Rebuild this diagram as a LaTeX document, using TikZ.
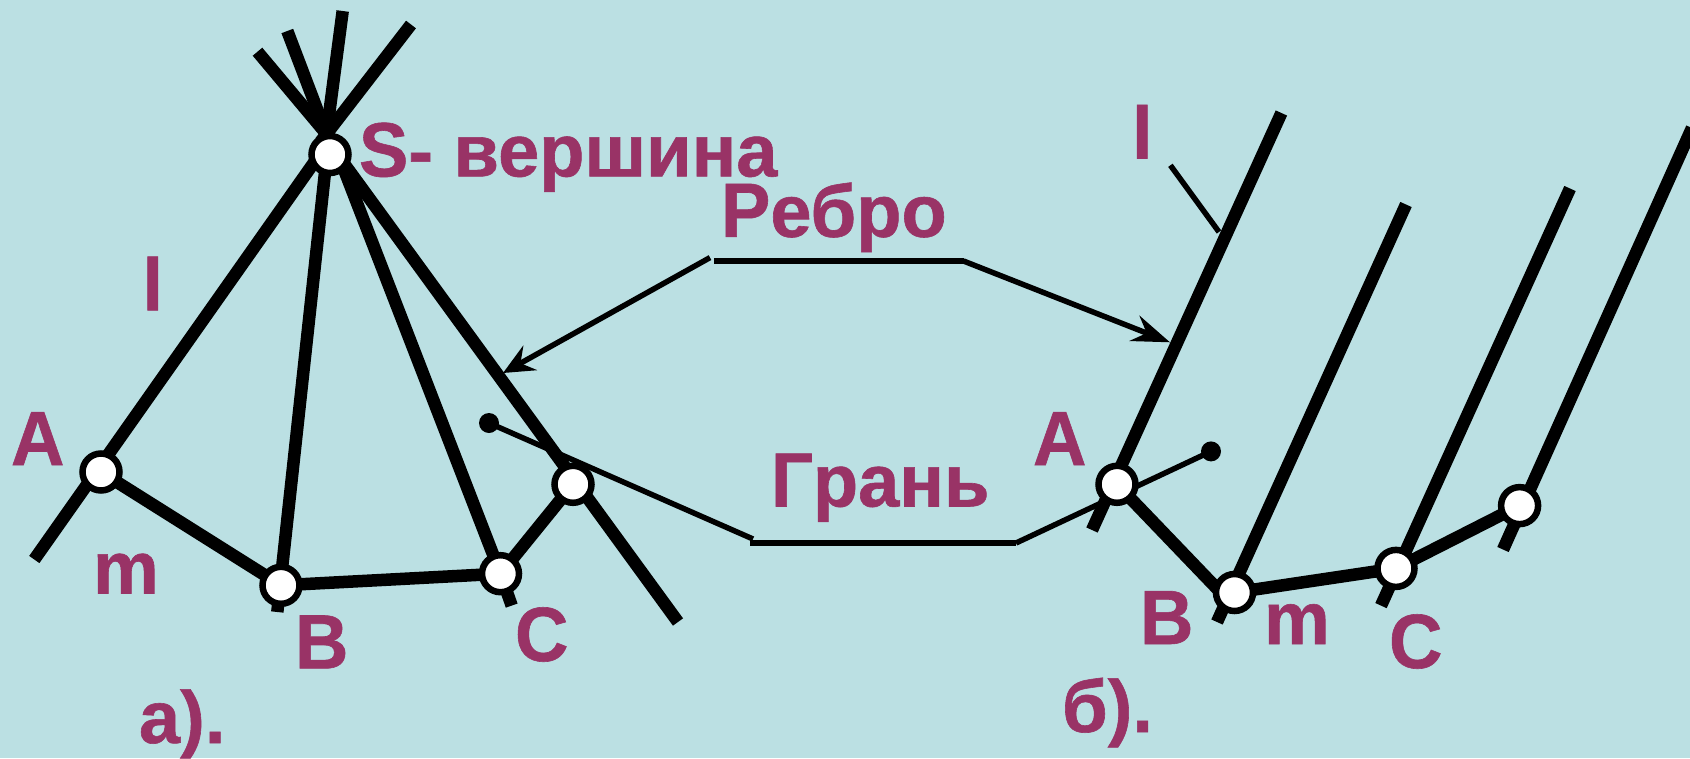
\documentclass[tikz,border=0pt]{standalone}
\usepackage{graphicx}
\usepackage{fontspec}
\setmainfont{Liberation Sans}[BoldFeatures={FakeBold=0.8}]
\usetikzlibrary{backgrounds,arrows.meta,calc}
\definecolor{bgc}{HTML}{BBE0E3}
\definecolor{txtc}{HTML}{993366}
\newcommand\tallcap[1]{\scalebox{1}[1.04]{#1}}
\tikzset{
  vertex/.style={circle,draw=black,fill=white,line width=6.5pt,minimum size=37pt,inner sep=0pt},
  lab/.style={anchor=base west,inner sep=0pt,outer sep=0pt,text=txtc,font=\fontsize{74}{74}\selectfont\bfseries},
  rib/.style={line width=12.5pt,draw=black},
  lead/.style={line width=5.5pt,draw=black},
  leadt/.style={line width=5.5pt,draw=black},
  tipa/.style={-{Stealth[length=31pt,width=28pt,inset=11pt]}},
  tipb/.style={-{Stealth[length=38pt,width=27pt,inset=13pt]}},
  dotend/.style={circle,fill=black,minimum size=20pt,inner sep=0pt}
}
\begin{document}
\begin{tikzpicture}[x=1pt,y=-1pt]
\useasboundingbox (0,0) rectangle (1690,758);
% vertices, pyramid
\node[vertex] (S) at (330,154.5) {};
\node[vertex] (A) at (101,472) {};
\node[vertex] (B) at (281,585.3) {};
\node[vertex] (C) at (500.5,573.7) {};
\node[vertex] (D) at (573,484.3) {};
% vertices, prism
\node[vertex] (A2) at (1117,484.3) {};
\node[vertex] (B2) at (1234.5,592.5) {};
\node[vertex] (C2) at (1396,568.4) {};
\node[vertex] (D2) at (1519.6,505.6) {};
% free ends
\coordinate (apex) at (326.5,134);
\coordinate (f1) at (257.5,51.7);
\coordinate (f2) at (287.3,31);
\coordinate (f3) at (342.7,11);
\coordinate (f4) at (411,24.5);
\coordinate (sa) at (320,154);
\coordinate (sb) at (327,154);
\coordinate (sc) at (338,154);
\coordinate (sd) at (337,154);
\coordinate (ae) at (34.3,559.5);
\coordinate (be) at (277.3,612);
\coordinate (ce) at (511.7,605.6);
\coordinate (de) at (678,622);
\coordinate (ab) at (1228,600);
\coordinate (a2t) at (1281.4,113);
\coordinate (a2b) at (1092,530);
\coordinate (b2t) at (1406,204.5);
\coordinate (b2b) at (1217,622);
\coordinate (c2t) at (1570,188.5);
\coordinate (c2b) at (1381,605.6);
\coordinate (d2t) at (1692,128);
\coordinate (d2b) at (1503,549.5);
\coordinate (t1) at (1170.4,165.3);
\coordinate (t2) at (1219,232);
\coordinate (r0) at (710,257.6);
\coordinate (r1) at (714,261);
\coordinate (r2) at (963.5,261);
\coordinate (rt1) at (503,373);
\coordinate (rt2) at (1170,342.3);
\coordinate (g0) at (753,539);
\coordinate (g1) at (750,543);
\coordinate (g2) at (1016,543);
\node[dotend] (dl) at (489,423) {};
\node[dotend] (dr) at (1211,451.4) {};
% labels
\node[lab] (ls) at (359,176.4) {\tallcap{S}- вершина};
\node[lab] (lr) at (721,236.8) {\tallcap{Р}ебро};
\node[lab] (lg) at (771,506.5) {\tallcap{Г}рань};
\node[lab] (ll1) at (142.5,310.3) {l};
\node[lab] (ll2) at (1132,158.5) {l};
\node[lab] (la1) at (11,465) {\tallcap{A}};
\node[lab] (lm1) at (93,593.5) {m};
\node[lab] (lb1) at (295,668.4) {\tallcap{B}};
\node[lab] (lc1) at (515,661) {\tallcap{C}};
\node[lab] (lf1) at (139,743) {а).};
\node[lab] (la2) at (1033,465) {\tallcap{A}};
\node[lab] (lb2) at (1140,644) {\tallcap{B}};
\node[lab] (lm2) at (1264,644) {m};
\node[lab] (lc2) at (1389,668) {\tallcap{C}};
\node[lab] (lf2) at (1062,732) {б).};
\begin{pgfonlayer}{background}
\fill[bgc] (0,0) rectangle (1690,758);
\draw[rib] (ae) -- (sa);
\draw[rib] (be) -- (sb);
\draw[rib] (C.center) -- (sc);
\draw[rib] (de) -- (sd);
\draw[rib] (apex) -- (S.center);
\draw[rib] (f1) -- ($(f1)!1.1!(apex)$);
\draw[rib] (f2) -- ($(f2)!1.2!(apex)$);
\draw[rib] (f3) -- ($(f3)!1.15!(apex)$);
\draw[rib] (f4) -- ($(f4)!1.07!(apex)$);
\draw[rib] (C.center) -- (ce);
\draw[rib] (A.center) -- (B.center);
\draw[rib] (B.center) -- (C.center);
\draw[rib] (C.center) -- (D.center);
\draw[rib] (a2b) -- (a2t);
\draw[rib] (b2b) -- (b2t);
\draw[rib] (c2b) -- (c2t);
\draw[rib] (d2b) -- (d2t);
\draw[rib] (A2.center) -- (ab);
\draw[rib] (B2.center) -- (C2.center);
\draw[rib] (C2.center) -- (D2.center);
\draw[lead] (t1) -- (t2);
\draw[lead] (r1) -- (r2);
\draw[lead] (g1) -- (g2);
\draw[leadt,tipa] (r0) -- (rt1);
\draw[lead,tipb] (r2) -- (rt2);
\draw[leadt] (g0) -- (dl.center);
\draw[leadt] (g2) -- (dr.center);
\end{pgfonlayer}
\end{tikzpicture}
\end{document}
